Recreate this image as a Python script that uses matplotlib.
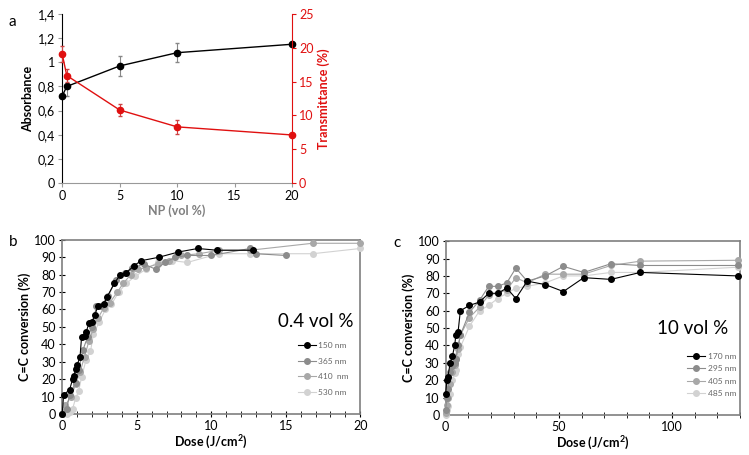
import numpy as np
import matplotlib.pyplot as plt
from matplotlib.ticker import FuncFormatter, MultipleLocator

plt.rcParams['font.family'] = ['Lato', 'DejaVu Sans']
plt.rcParams['mathtext.fontset'] = 'custom'
plt.rcParams['mathtext.rm'] = 'Lato'
plt.rcParams['mathtext.bf'] = 'Lato:bold'

# panel a
np_vol = [0, 0.4, 5, 10, 20]
absorb = [0.72, 0.80, 0.97, 1.08, 1.15]
absorb_err = [0.0, 0.08, 0.08, 0.08, 0.0]
transm = [19.1, 15.9, 10.8, 8.3, 7.1]
transm_err = [1.2, 1.0, 0.9, 1.0, 0.0]

# panel b (0.4 vol %)
b_labels = ['150 nm', '365 nm', '410  nm', '530 nm']
b_x150 = [0, 0.1, 0.5, 0.7, 0.8, 0.9, 1.0, 1.2, 1.3, 1.5, 1.6, 1.8, 2.0, 2.2, 2.4, 2.8, 3.0,
          3.5, 3.9, 4.3, 4.8, 5.3, 6.5, 7.8, 9.1, 10.4, 12.8]
b_y150 = [0, 11, 14, 20, 22, 26, 28, 33, 44, 45, 47, 52, 53, 57, 62, 63, 67,
          75, 80, 81, 85, 88, 90, 93, 95, 94, 94]
b_x365 = [0, 0.3, 0.5, 0.9, 1.1, 1.4, 1.7, 2.0, 2.3, 2.6, 3.1, 3.6, 4.2, 4.7, 5.5, 6.3,
          6.9, 7.6, 8.4, 10.0, 12.6, 13.0, 15.0]
b_y365 = [0, 3, 11, 18, 25, 37, 44, 50, 62, 62, 68, 77, 81, 84, 86, 83,
          87, 90, 91, 91, 95, 92, 91]
b_x410 = [0, 0.2, 0.6, 0.9, 1.2, 1.5, 1.8, 2.1, 2.4, 2.8, 3.2, 3.7, 4.1, 4.6, 5.1, 5.6,
          6.4, 7.2, 8.0, 9.2, 10.5, 12.6, 16.8, 20]
b_y410 = [0, 5, 10, 17, 24, 33, 42, 49, 55, 61, 64, 70, 75, 80, 83, 84,
          86, 88, 91, 92, 94, 94, 98, 98]
b_x530 = [0, 0.3, 0.5, 0.7, 0.9, 1.1, 1.3, 1.6, 1.9, 2.1, 2.5, 2.9, 3.3, 3.8, 4.3, 4.9,
          5.6, 6.4, 7.4, 8.4, 10.5, 12.6, 16.8, 20]
b_y530 = [0, 0, 1, 3, 9, 13, 21, 31, 36, 46, 53, 60, 63, 70, 75, 79,
          83, 87, 88, 87, 92, 92, 92, 95]

# panel c (10 vol %)
c_labels = ['170 nm', '295 nm', '405 nm', '485 nm']
c_x = [0, 0.5, 1, 2, 3, 4, 4.5, 5.5, 6.5, 10.5, 15, 19, 23, 27, 31, 36, 44, 52, 61, 73, 86, 129]
c_y170 = [12, 20, 22, 30, 34, 40, 46, 48, 60, 63, 65, 70, 70, 73, 67, 77, 75, 71, 79, 78, 82, 80]
c_y295 = [3, 10, 15, 25, 28, 30, 32, 40, 46, 59, 66, 74, 74, 76, 84.5, 77, 80, 85.5, 82, 87, 86, 86]
c_y405 = [1, 6, 10, 18, 25, 29, 32, 38, 46, 56, 62, 69, 70, 72, 79, 76, 81, 81, 81, 86, 88.5, 89]
c_y485 = [0, 3, 5, 12, 20, 24, 26, 35, 39, 51, 60, 63, 67, 70, 73, 74, 76, 80, 80, 82, 82, 85]

grays = ['#000000', '#8c8c8c', '#a8a8a8', '#d2d2d2']
red = '#e01010'

fig = plt.figure(figsize=(7.49, 4.55), dpi=100)

# ---- panel a
ax = fig.add_axes([0.083, 0.598, 0.307, 0.371])
ax.errorbar(np_vol, absorb, yerr=absorb_err, color='black', marker='o', ms=4.5, lw=1,
            ecolor='#888888', elinewidth=0.8, capsize=1.5, zorder=3, clip_on=False)
ax.set_xlim(0, 20)
ax.set_ylim(0, 1.4)
ax.set_xticks([0, 5, 10, 15, 20])
ax.set_yticks(np.arange(0, 1.41, 0.2))
ax.yaxis.set_major_formatter(FuncFormatter(lambda v, p: ('%g' % round(v, 1)).replace('.', ',')))
ax.set_ylabel('Absorbance', fontsize=9, fontweight='bold', labelpad=3)
ax.set_xlabel('NP (vol %)', fontsize=9, fontweight='bold', color='#7f7f7f', labelpad=2)
ax.spines['top'].set_visible(False)
ax.spines['right'].set_visible(False)
ax.spines['bottom'].set_color('#999999')
ax.tick_params(labelsize=9, length=3, color='#999999', pad=2)

ax2 = ax.twinx()
ax2.errorbar(np_vol, transm, yerr=transm_err, color=red, marker='o', ms=4.5, lw=1,
             ecolor='#cc4444', elinewidth=0.8, capsize=1.5, zorder=3, clip_on=False)
ax2.set_ylim(0, 25)
ax2.set_yticks([0, 5, 10, 15, 20, 25])
ax2.set_ylabel('Transmittance (%)', fontsize=9, fontweight='bold', color=red, labelpad=3)
ax2.tick_params(labelsize=9, colors=red, length=3, pad=2)
ax2.spines['right'].set_color(red)
ax2.spines['top'].set_visible(False)
ax2.spines['left'].set_visible(False)
ax2.spines['bottom'].set_visible(False)


def style_conv(a):
    for s in a.spines.values():
        s.set_color('#7f7f7f')
        s.set_linewidth(1.2)
    a.tick_params(labelsize=9, direction='inout', length=5, width=0.8, pad=2)
    a.tick_params(which='minor', direction='inout', length=4, width=0.6)
    a.set_ylim(0, 100)
    a.set_yticks(range(0, 101, 10))
    a.set_ylabel('C=C conversion (%)', fontsize=9, fontweight='bold', labelpad=2)
    a.set_xlabel(r'Dose (J/cm$^\mathbf{2}$)', fontsize=9, fontweight='bold', labelpad=1)


def conv_legend(a, x0, y0, spacing):
    h, l = a.get_legend_handles_labels()
    a.legend(h[::-1], l[::-1], loc='lower left', bbox_to_anchor=(x0, y0), frameon=False,
             fontsize=6, labelcolor='#666666', handlelength=2.2, labelspacing=spacing,
             handletextpad=0.3, borderpad=0.2)


# ---- panel b
bx = fig.add_axes([0.083, 0.090, 0.398, 0.383])
b_series = [(b_x150, b_y150), (b_x365, b_y365), (b_x410, b_y410), (b_x530, b_y530)]
for i in range(3, -1, -1):
    xs, ys = b_series[i]
    bx.plot(xs, ys, color=grays[i], marker='o', ms=4, lw=0.8, label=b_labels[i],
            zorder=3 + (3 - i), clip_on=False)
bx.set_xlim(0, 20)
bx.set_xticks([0, 5, 10, 15, 20])
bx.xaxis.set_minor_locator(MultipleLocator(1))
style_conv(bx)
conv_legend(bx, 0.77, 0.07, 1.05)
bx.text(0.85, 0.53, '0.4 vol %', transform=bx.transAxes, ha='center', va='center', fontsize=13.5)

# ---- panel c
cx = fig.add_axes([0.595, 0.088, 0.393, 0.382])
c_series = [c_y170, c_y295, c_y405, c_y485]
for i in range(3, -1, -1):
    cx.plot(c_x, c_series[i], color=grays[i], marker='o', ms=4, lw=0.8, label=c_labels[i],
            zorder=3 + (3 - i), clip_on=False)
cx.set_xlim(0, 130)
cx.set_xticks([0, 50, 100])
cx.xaxis.set_minor_locator(MultipleLocator(10))
style_conv(cx)
conv_legend(cx, 0.80, 0.07, 0.65)
cx.text(0.84, 0.50, '10 vol %', transform=cx.transAxes, ha='center', va='center', fontsize=13.5)

fig.text(0.012, 0.952, 'a', fontsize=11, va='center')
fig.text(0.012, 0.468, 'b', fontsize=11, va='center')
fig.text(0.525, 0.466, 'c', fontsize=11, va='center')

fig.savefig('out.png', dpi=100, facecolor='white')
